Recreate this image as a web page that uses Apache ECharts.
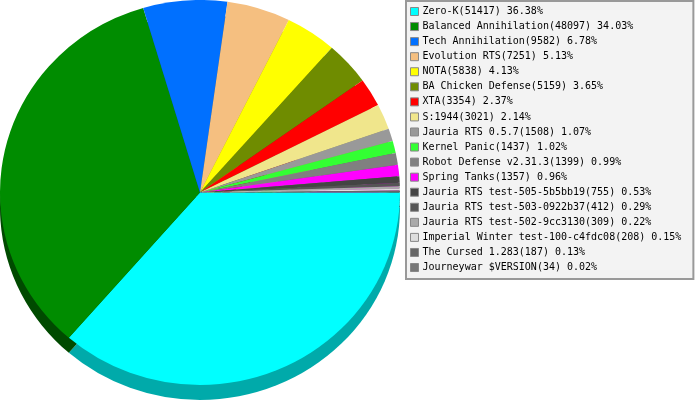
<!DOCTYPE html>
<html><head><meta charset="utf-8">
<style>html,body{margin:0;padding:0;background:#fff}#c{width:695px;height:400px}</style>
<script src="https://cdn.jsdelivr.net/npm/echarts@6/dist/echarts.min.js"></script>
</head><body><div id="c"></div>
<script>
const names = ["Zero-K","Balanced Annihilation","Tech Annihilation","Evolution RTS","NOTA","BA Chicken Defense","XTA","S:1944","Jauria RTS 0.5.7","Kernel Panic","Robot Defense v2.31.3","Spring Tanks","Jauria RTS test-505-5b5bb19","Jauria RTS test-503-0922b37","Jauria RTS test-502-9cc3130","Imperial Winter test-100-c4fdc08","The Cursed 1.283","Journeywar $VERSION"];
const values = [51417,48097,9582,7251,5838,5159,3354,3021,1508,1437,1399,1357,755,412,309,208,187,34];
const colors = ["#00ffff","#008c00","#0070ff","#f5bf80","#ffff00","#6f8c00","#ff0000","#f0e68c","#999999","#33ff33","#808080","#ff00ff","#444444","#555555","#aaaaaa","#dddddd","#666666","#777777"];
const shades = ["#00aaaa","#004a00","#004a99","#a38055","#aaaa00","#4a5d00","#aa0000","#a09a5d","#666666","#22aa22","#555555","#aa00aa","#2d2d2d","#393939","#717171","#939393","#444444","#4f4f4f"];
const total = values.reduce((a,b)=>a+b,0);
const labels = names.map((n,i)=>`${n}(${values[i]}) ${(values[i]/total*100).toFixed(2)}%`);
const cx=200, cy=192.5, rx=200, ry=192.5, depth=15;
const starts=[]; values.reduce((a,v,i)=>{starts[i]=a;return a+v;},0);
function sector(api,dy,fill,i){
  const a0=starts[i]/total*Math.PI*2, a1=a0+api.value(0)/total*Math.PI*2;
  return {type:'sector',x:cx,y:cy+dy,scaleY:ry/rx,
    shape:{cx:0,cy:0,r:rx,r0:0,startAngle:a0,endAngle:a1,clockwise:true},
    style:{fill:fill}};
}
const series=[];
labels.forEach((l,i)=>{
  series.push({type:'custom',coordinateSystem:'none',z:1,silent:true,animation:false,
    data:[[values[i]]],renderItem:(p,api)=>sector(api,depth,shades[i],i)});
});
labels.forEach((l,i)=>{
  series.push({type:'custom',name:l,coordinateSystem:'none',z:2,silent:true,animation:false,
    itemStyle:{color:colors[i]},
    data:[[values[i]]],renderItem:(p,api)=>sector(api,0,colors[i],i)});
});
const chart=echarts.init(document.getElementById('c'),null,{renderer:'canvas'});
chart.setOption({
  animation:false,
  legend:{
    data:labels.map(l=>({name:l,icon:'rect'})),
    orient:'vertical',left:406,top:1,width:284,height:274,
    padding:[3,12,4,4],itemWidth:8,itemHeight:8,itemGap:0.06,
    selectedMode:false,align:'left',
    backgroundColor:'#f3f3f3',borderColor:'#999999',borderWidth:2,
    itemStyle:{borderColor:'#888888',borderWidth:1},
    textStyle:{fontFamily:'"DejaVu Sans Mono"',fontSize:10,color:'#000',lineHeight:15,padding:[0,0,0,-1]}
  },
  series
});
</script></body></html>
